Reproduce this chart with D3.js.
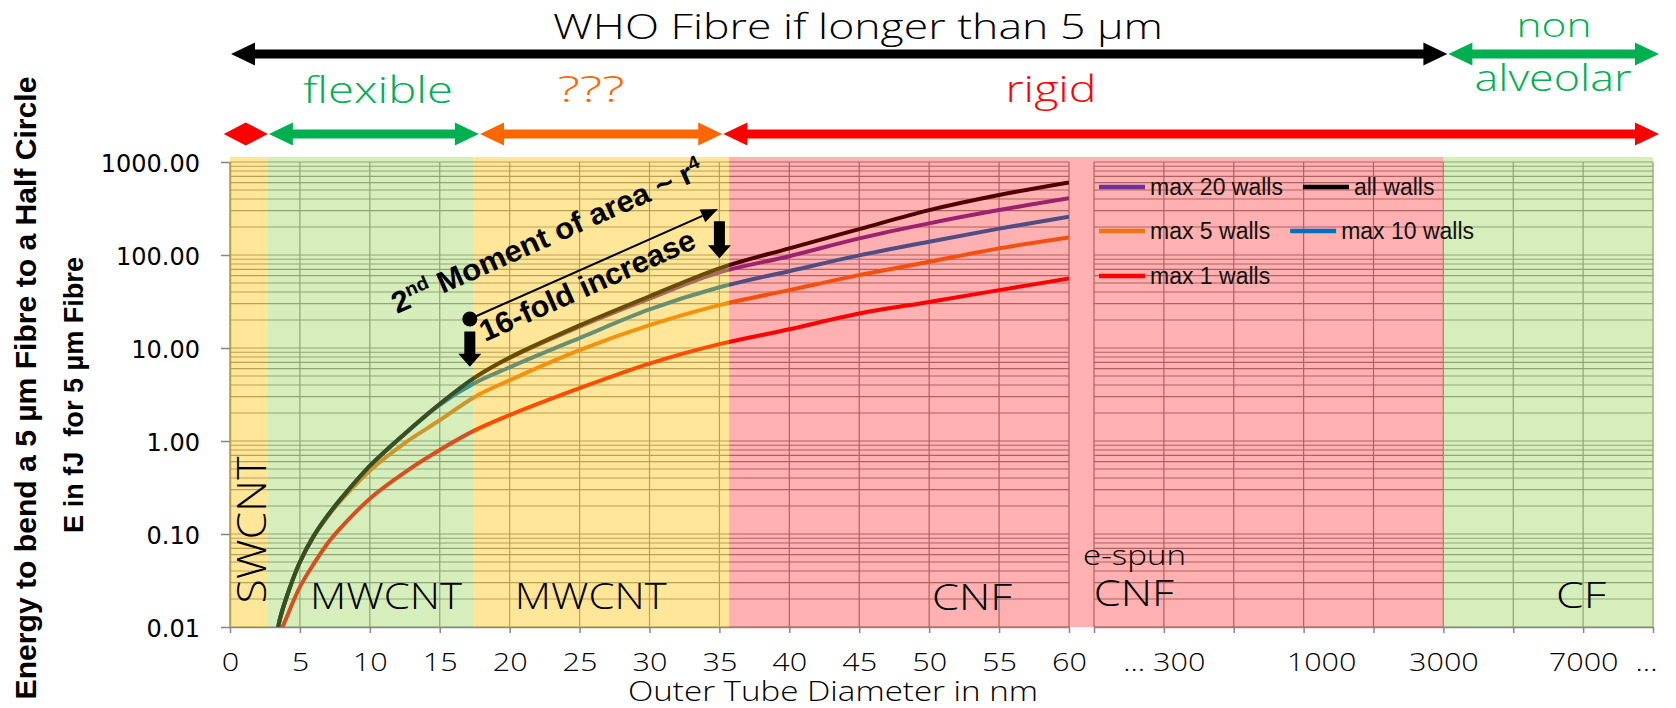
<!DOCTYPE html>
<html><head><meta charset="utf-8">
<script src="https://cdn.jsdelivr.net/npm/d3@7/dist/d3.min.js"></script>
<style>
html,body{margin:0;padding:0;background:#fff;}
svg{display:block;}
</style></head>
<body>
<svg id="chart" width="1676" height="708"></svg>
<script>
// ---------------- data ----------------
const diameters  = [3.4, 3.5, 4, 5, 6, 7, 8, 10, 12.5, 15, 17.5, 20, 25, 30, 35, 40, 45, 50, 55, 60];
const allWalls   = [0.0085, 0.011, 0.020, 0.050, 0.096, 0.159, 0.246, 0.54, 1.2, 2.5, 4.8, 7.9, 17.5, 36, 72, 118, 190, 304, 442, 604];
const max20Walls = [0.0085, 0.011, 0.020, 0.050, 0.096, 0.159, 0.246, 0.54, 1.2, 2.5, 4.8, 7.8, 17, 34, 65, 97, 151, 219, 304, 407];
const max10Walls = [0.0085, 0.011, 0.020, 0.050, 0.096, 0.159, 0.246, 0.54, 1.19, 2.45, 4.2, 6.2, 12.8, 26, 45, 67, 99, 139, 192, 258];
const max5Walls  = [0.0085, 0.011, 0.020, 0.050, 0.095, 0.155, 0.235, 0.48, 0.95, 1.67, 2.98, 4.5, 9.5, 17.6, 28.9, 41.9, 60.8, 84.5, 117.8, 154.6];
const max1Walls  = [0.0073, 0.008, 0.0122, 0.027, 0.048, 0.08, 0.12, 0.24, 0.46, 0.8, 1.3, 1.9, 3.7, 6.8, 11.0, 15.9, 23.5, 31.3, 41.9, 56];

const seriesNames  = ["max 1 walls", "max 5 walls", "max 10 walls", "max 20 walls", "all walls"];
const seriesValues = [max1Walls, max5Walls, max10Walls, max20Walls, allWalls];
const seriesColors = ["#ff0000", "#ee7414", "#0070c0", "#7030a0", "#000000"];
const legendOrder  = ["max 20 walls", "all walls", "max 5 walls", "max 10 walls", "max 1 walls"];

const xTickValues   = [0, 5, 10, 15, 20, 25, 30, 35, 40, 45, 50, 55, 60];
const yTickValues   = [0.01, 0.1, 1, 10, 100, 1000];
const farSlots      = [0, 1, 2, 3, 4, 5, 6, 7, 8];
const farTickSlots  = [1, 3.25, 5, 7, 7.9];
const farTickLabels = ["... 300", "1000", "3000", "7000", "..."];
const bandStops     = [0, 2.7, 17.4, 35.7];   // nm, zone limits in the linear part
const farGreenStart = 5;                     // slot of 3000 nm

// ---------------- scales ----------------
const svg = d3.select("#chart");
const X = d3.scaleLinear().domain([0, 60]).range([230, 1069]);
const R = d3.scaleLinear().domain([0, 8]).range([1094, 1653]);
const Y = d3.scaleLog().domain([0.01, 1000]).range([627, 162]);
const yTop = Y(1000), yBot = Y(0.01);
const THIN = "'Open Sans', 'DejaVu Sans', sans-serif";

function label(g, s, x, y, o = {}) {
  const t = g.append("text")
    .attr("text-anchor", o.anchor || "middle")
    .attr("font-family", o.family || THIN)
    .attr("font-size", o.size || 24)
    .attr("font-weight", o.weight || "300")
    .attr("fill", o.fill || "#000")
    .text(s);
  if (o.pre) t.style("white-space", "pre");
  let k = o.k || 1;
  if (o.width) { const n = t.node().getComputedTextLength(); k = o.width / n; }
  t.attr("transform", `translate(${x},${y}) rotate(${o.rotate || 0}) scale(${k},1)`);
  return t;
}

// ---------------- gridlines ----------------
const grid = svg.append("g").attr("stroke", "#8c8c8c").attr("stroke-width", 1.2);
const yGrid = Y.ticks();
grid.selectAll("line.hl").data(yGrid).join("line").attr("class", "hl")
  .attr("x1", X(0)).attr("x2", X(60)).attr("y1", d => Y(d)).attr("y2", d => Y(d));
grid.selectAll("line.hr").data(yGrid).join("line").attr("class", "hr")
  .attr("x1", R(0)).attr("x2", R(8)).attr("y1", d => Y(d)).attr("y2", d => Y(d));
grid.selectAll("line.vl").data(xTickValues).join("line").attr("class", "vl")
  .attr("x1", d => X(d)).attr("x2", d => X(d)).attr("y1", yTop).attr("y2", yBot);
grid.selectAll("line.vr").data(farSlots).join("line").attr("class", "vr")
  .attr("x1", d => R(d)).attr("x2", d => R(d)).attr("y1", yTop).attr("y2", yBot);

// ---------------- axes ----------------
const axisColor = "#868686";
const gx = svg.append("g").attr("transform", `translate(0,${yBot})`)
  .call(d3.axisBottom(X).tickValues(xTickValues).tickSize(6).tickSizeOuter(0).tickPadding(19.5));
const gr = svg.append("g").attr("transform", `translate(0,${yBot})`)
  .call(d3.axisBottom(R).tickValues(farSlots).tickFormat("").tickSize(6).tickSizeOuter(0));
const grl = svg.append("g").attr("transform", `translate(0,${yBot})`)
  .call(d3.axisBottom(R).tickValues(farTickSlots).tickFormat((d, i) => farTickLabels[i]).tickSize(0).tickPadding(25.5));
grl.select(".domain").remove();
const gy = svg.append("g").attr("transform", `translate(${X(0)},0)`)
  .call(d3.axisLeft(Y).tickValues(yTickValues).tickFormat(d3.format(".2f")).tickSize(9).tickSizeOuter(0).tickPadding(21));
[gx, gr, gy].forEach(g => {
  g.select(".domain").attr("stroke", axisColor).attr("stroke-width", 1.5);
  g.selectAll(".tick line").attr("stroke", axisColor).attr("stroke-width", 1.5);
});
[gx, grl].forEach(g => g.selectAll(".tick text")
  .attr("font-family", THIN).attr("font-weight", "300").attr("font-size", 25.5).attr("fill", "#000")
  .attr("dy", "0.72em")
  .attr("transform", "scale(1.2,1)"));
gy.selectAll(".tick text").attr("font-family", "DejaVu Sans").attr("font-size", 24)
  .attr("fill", "#000").attr("dy", "0.4em");

// ---------------- curves ----------------
svg.append("clipPath").attr("id", "plotClip").append("rect")
  .attr("x", X(0)).attr("y", yTop - 10).attr("width", X(60) - X(0)).attr("height", yBot - yTop + 10);
const line = d3.line().x(d => X(d[0])).y(d => Y(d[1])).curve(d3.curveCatmullRom.alpha(0.5));
const curves = svg.append("g").attr("clip-path", "url(#plotClip)");
seriesValues.forEach((vals, i) => {
  curves.append("path")
    .datum(diameters.map((d, j) => [d, vals[j]]))
    .attr("d", line).attr("fill", "none")
    .attr("stroke", seriesColors[i]).attr("stroke-width", 4)
    .attr("stroke-linejoin", "round");
});

// ---------------- translucent zone overlays ----------------
const yellow = "rgba(255,192,0,0.4)", green = "rgba(146,208,80,0.38)", pink = "rgba(255,0,0,0.31)";
const zones = [
  [X(bandStops[0]), X(bandStops[1]), yellow],
  [X(bandStops[1]), X(bandStops[2]), green],
  [X(bandStops[2]), X(bandStops[3]), yellow],
  [X(bandStops[3]), R(farGreenStart), pink],
  [R(farGreenStart), R(8), green]
];
svg.append("g").selectAll("rect").data(zones).join("rect")
  .attr("x", d => d[0]).attr("width", d => d[1] - d[0])
  .attr("y", yTop - 5).attr("height", yBot - yTop + 5).attr("fill", d => d[2]);

// ---------------- material labels ----------------
const mat = svg.append("g");
label(mat, "SWCNT", X(2.55), 530, { size: 40, rotate: -90, width: 147 });
label(mat, "MWCNT", X(11.16), 609, { size: 37, width: 152 });
label(mat, "MWCNT", X(25.8), 609, { size: 37, width: 152 });
label(mat, "CNF", X(53.06), 610, { size: 37, width: 80 });
label(mat, "e-spun", R(0.58), 565, { size: 28, width: 103 });
label(mat, "CNF", R(0.57), 606, { size: 37, width: 80 });
label(mat, "CF", R(6.97), 608, { size: 37, width: 50 });

// ---------------- axis titles ----------------
label(svg, "Outer Tube Diameter in nm", 833, 701, { size: 28, width: 410 });
label(svg, "Energy to bend a 5 µm Fibre to a Half Circle", 36, 388,
  { size: 30, rotate: -90, family: "Liberation Sans", weight: "bold", width: 623 });
label(svg, "E in fJ  for 5 µm Fibre", 83, 395,
  { size: 27, rotate: -90, family: "Liberation Sans", weight: "bold", width: 276, pre: true });

// ---------------- legend ----------------
const lg = svg.append("g").attr("font-family", "Liberation Sans").attr("font-size", 23);
const legendRowsY = [187, 231, 276];
(function () {
  let row = 0, xCursor = 1099, inRow = 0;
  legendOrder.forEach((name) => {
    const ly = legendRowsY[row];
    const c = seriesColors[seriesNames.indexOf(name)];
    lg.append("line").attr("x1", xCursor).attr("x2", xCursor + 46).attr("y1", ly).attr("y2", ly)
      .attr("stroke", c).attr("stroke-width", 4.5);
    const t = lg.append("text").attr("x", xCursor + 51).attr("y", ly + 8).attr("fill", "#111").text(name);
    xCursor += 51 + t.node().getComputedTextLength() + 20;
    inRow++;
    if (inRow === 2) { row++; inRow = 0; xCursor = 1099; }
  });
})();

// ---------------- annotation ----------------
const ann = svg.append("g");
const dot = [X(17.15), Y(20.5)], lineEnd = [X(34.9), Y(312)];
const ddx = lineEnd[0] - dot[0], ddy = lineEnd[1] - dot[1], len = Math.hypot(ddx, ddy);
const ux = ddx / len, uy = ddy / len;
const hb = [lineEnd[0] - 17 * ux, lineEnd[1] - 17 * uy];
ann.append("line").attr("x1", dot[0]).attr("y1", dot[1]).attr("x2", hb[0]).attr("y2", hb[1])
  .attr("stroke", "#000").attr("stroke-width", 2);
ann.append("path").attr("fill", "#000").attr("d",
  `M${lineEnd[0]},${lineEnd[1]} L${hb[0] - 7 * uy},${hb[1] + 7 * ux} L${hb[0] + 7 * uy},${hb[1] - 7 * ux} Z`);
ann.append("circle").attr("cx", dot[0]).attr("cy", dot[1]).attr("r", 7.5).attr("fill", "#000");
function downArrow(xv, yTopV, yTipV) {
  const x = X(xv), y0 = Y(yTopV), y1 = Y(yTipV), hl = 13;
  ann.append("path").attr("fill", "#000").attr("d",
    `M${x - 5.5},${y0} L${x + 5.5},${y0} L${x + 5.5},${y1 - hl} L${x + 11.5},${y1 - hl} L${x},${y1} L${x - 11.5},${y1 - hl} L${x - 5.5},${y1 - hl} Z`);
}
downArrow(17.15, 15, 6.3);
downArrow(35, 230, 92);
(function () {
  const t = ann.append("text").attr("font-family", "Liberation Sans").attr("font-weight", "bold")
    .attr("font-size", 30).attr("fill", "#000");
  t.append("tspan").text("2");
  t.append("tspan").text("nd").attr("font-size", 19).attr("dy", -11);
  t.append("tspan").text(" Moment of area ~ r").attr("dy", 11);
  t.append("tspan").text("4").attr("font-size", 19).attr("dy", -11);
  const n = t.node().getComputedTextLength();
  t.attr("transform", `translate(397,314) rotate(-24) scale(${338 / n},1)`);
})();
label(ann, "16-fold increase", 485, 342,
  { size: 30, anchor: "start", rotate: -24, family: "Liberation Sans", weight: "bold", width: 233 });

// ---------------- top arrows & zone names ----------------
const topG = svg.append("g");
function doubleArrow(x1, x2, y, color, L = 24, h = 11.5, s = 4.5) {
  L = Math.min(L, (x2 - x1) / 2);
  topG.append("path").attr("fill", color).attr("d",
    `M${x1},${y} L${x1 + L},${y - h} L${x1 + L},${y - s} L${x2 - L},${y - s} L${x2 - L},${y - h} L${x2},${y} ` +
    `L${x2 - L},${y + h} L${x2 - L},${y + s} L${x1 + L},${y + s} L${x1 + L},${y + h} Z`);
}
const cGreen = "#00b050", cOrange = "#ff6600", cRed = "#ff0000";
doubleArrow(X(0) + 1, R(farGreenStart) + 4, 54, "#000");
doubleArrow(R(farGreenStart) + 5, R(8) + 6, 54, cGreen);
doubleArrow(X(-0.45), X(2.7), 134, cRed);
doubleArrow(X(2.78), X(17.8), 134, cGreen);
doubleArrow(X(17.88), X(35.2), 134, cOrange);
doubleArrow(X(35.28), R(8) + 6, 134, cRed);

label(topG, "WHO Fibre if longer than 5 µm", 858, 38.5, { size: 35, width: 610 });
label(topG, "non", 1554, 36.5, { size: 33, width: 75, fill: cGreen });
label(topG, "alveolar", 1553, 91, { size: 37, width: 157, fill: cGreen });
label(topG, "flexible", 378, 103, { size: 37, width: 150, fill: cGreen });
label(topG, "???", 591, 102, { size: 37, width: 67, fill: cOrange });
label(topG, "rigid", 1051, 102, { size: 37, width: 91, fill: cRed });
</script>
</body></html>
